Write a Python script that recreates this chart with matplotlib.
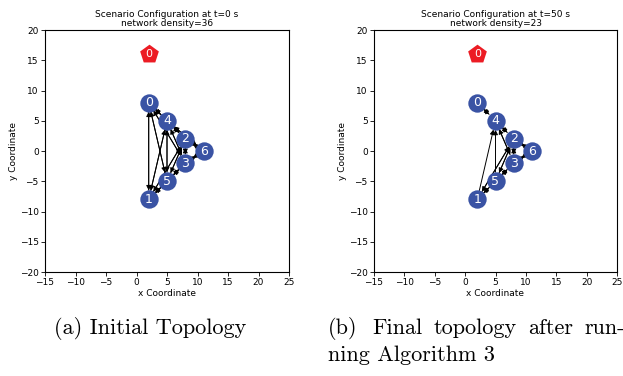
import numpy as np
import matplotlib
matplotlib.use("Agg")
import matplotlib.pyplot as plt

# node positions
node_ids = [0, 1, 2, 3, 4, 5, 6]
node_x = [2, 2, 8, 8, 5, 5, 11]
node_y = [8, -8, 2, -2, 5, -5, 0]
sink_x = [2]
sink_y = [16]

# directed links
edges_start = [(0, 1), (1, 0), (0, 4), (4, 0), (0, 5), (5, 0), (0, 3), (3, 0),
               (0, 2), (2, 0), (1, 4), (4, 1), (1, 5), (5, 1), (1, 2), (2, 1),
               (1, 3), (3, 1), (4, 2), (2, 4), (4, 3), (3, 4), (4, 5), (5, 4),
               (2, 3), (3, 2), (2, 6), (6, 2), (3, 6), (6, 3), (3, 5), (5, 3),
               (2, 5), (5, 2), (4, 6), (6, 4)]
edges_end = [(0, 4), (4, 0), (4, 2), (2, 4), (2, 6), (6, 2), (3, 6), (6, 3),
             (3, 5), (5, 3), (1, 5), (5, 1), (2, 3), (3, 2), (5, 4), (5, 2),
             (2, 5), (1, 2), (2, 1), (1, 3), (4, 3), (1, 4), (3, 4)]

titles = ["Scenario Configuration at t=0 s\nnetwork density=36",
          "Scenario Configuration at t=50 s\nnetwork density=23"]

# justified caption line (b), word by word
cap_b_words = ["(b)", "Final", "topology", "after", "run-"]
cap_b_x = [328, 372, 434, 528, 584]

blue = "#3a53a4"
red = "#ec1c24"

fig = plt.figure(figsize=(6.23, 3.76), dpi=100)
ax1 = fig.add_axes([45/623, 1-272/376, 244/623, 242/376])
ax2 = fig.add_axes([374/623, 1-272/376, 243/623, 242/376])


def draw(ax, edges, title):
    for a, b in edges:
        ax.annotate("", xy=(node_x[b], node_y[b]), xytext=(node_x[a], node_y[a]),
                    xycoords="data", textcoords="data",
                    arrowprops=dict(arrowstyle="-|>", color="black", lw=0.7,
                                    mutation_scale=7, shrinkA=6.5, shrinkB=6.5),
                    zorder=1)
    ax.scatter(node_x, node_y, s=175, c=blue, zorder=3, linewidths=0)
    for i, x, y in zip(node_ids, node_x, node_y):
        ax.text(x, y, str(i), color="white", fontsize=9, ha="center",
                va="center", zorder=4)
    ax.scatter(sink_x, sink_y, s=200, c=red, marker="p", zorder=3, linewidths=0)
    ax.text(sink_x[0], sink_y[0], "0", color="white", fontsize=8, ha="center",
            va="center", zorder=4)
    ax.set_xlim(-15, 25)
    ax.set_ylim(-20, 20)
    ax.set_xticks(np.arange(-15, 26, 5))
    ax.set_yticks(np.arange(-20, 21, 5))
    ax.tick_params(labelsize=6.5, length=3, width=0.6, pad=1.5)
    for s in ax.spines.values():
        s.set_linewidth(0.8)
    ax.set_xlabel("x Coordinate", fontsize=6.5, labelpad=1)
    ax.set_ylabel("y Coordinate", fontsize=6.5, labelpad=1)
    ax.set_title(title, fontsize=6.5, pad=3, linespacing=1.0)


draw(ax1, edges_start, titles[0])
draw(ax2, edges_end, titles[1])

fig.text(150/623, 1-328/376, "(a) Initial Topology", family="cmr10",
         fontsize=16, ha="center", va="center")
for w, x in zip(cap_b_words, cap_b_x):
    fig.text(x/623, 1-328/376, w, family="cmr10", fontsize=16,
             ha="left", va="center")
fig.text(328/623, 1-355/376, "ning Algorithm 3", family="cmr10",
         fontsize=16, ha="left", va="center")

fig.savefig("out.png", dpi=100)
